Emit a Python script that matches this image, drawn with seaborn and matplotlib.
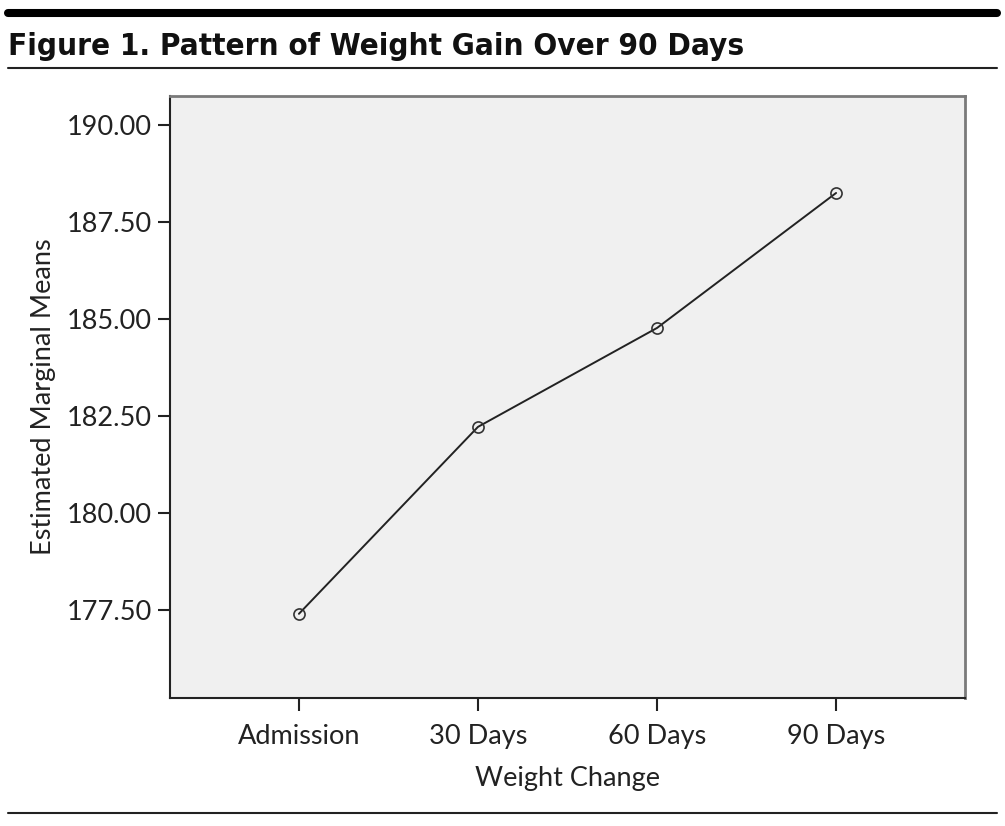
import pandas as pd
import matplotlib.pyplot as plt
import seaborn as sns

# data
time_points = ["Admission", "30 Days", "60 Days", "90 Days"]
marginal_means = [177.40, 182.22, 184.77, 188.25]
y_ticks = [177.5, 180.0, 182.5, 185.0, 187.5, 190.0]

df = pd.DataFrame({"Weight Change": time_points,
                   "Estimated Marginal Means": marginal_means})

sns.set_style("white")
plt.rcParams["font.family"] = ["Lato", "DejaVu Sans"]

fig = plt.figure(figsize=(10.05, 8.26), dpi=100)
ax = fig.add_axes([170 / 1005, 128 / 826, 795 / 1005, 602 / 826])
ax.set_facecolor("#f0f0f0")

sns.lineplot(data=df, x="Weight Change", y="Estimated Marginal Means",
             sort=False, color="#222222", linewidth=1.4,
             marker="o", markersize=8, markerfacecolor="none",
             markeredgecolor="#333333", markeredgewidth=1.2, ax=ax)

ax.set_xlim(-0.72, 3.72)
ax.set_ylim(175.23, 190.75)
ax.set_yticks(y_ticks)
ax.set_yticklabels([f"{v:.2f}" for v in y_ticks])

ax.tick_params(axis="both", labelsize=19.5, colors="#222222",
               length=9, width=1.5, direction="out")
ax.tick_params(axis="x", pad=10)
ax.tick_params(axis="y", pad=4)
ax.tick_params(bottom=True, left=True)

ax.set_xlabel("Weight Change", fontsize=19.5, color="#222222", labelpad=12)
ax.set_ylabel("Estimated Marginal Means", fontsize=19.5, color="#222222",
              labelpad=8)

for side in ["left", "bottom"]:
    ax.spines[side].set_color("#222222")
    ax.spines[side].set_linewidth(1.5)
for side in ["top", "right"]:
    ax.spines[side].set_color("#7a7a7a")
    ax.spines[side].set_linewidth(2)

# header rules and title
fig.add_artist(plt.Line2D([0.008, 0.992], [1 - 13 / 826] * 2,
                          color="black", linewidth=5.8))
fig.add_artist(plt.Line2D([0.008, 0.992], [1 - 68 / 826] * 2,
                          color="#222222", linewidth=1.5))
fig.add_artist(plt.Line2D([0.008, 0.992], [1 - 813 / 826] * 2,
                          color="#222222", linewidth=1.5))
fig.text(8 / 1005, 1 - 55 / 826, "Figure 1. Pattern of Weight Gain Over 90 Days",
         fontsize=22.5, fontweight="bold", fontstretch="condensed",
         color="#111111", family=["DejaVu Sans"])

fig.savefig("out.png", dpi=100)
